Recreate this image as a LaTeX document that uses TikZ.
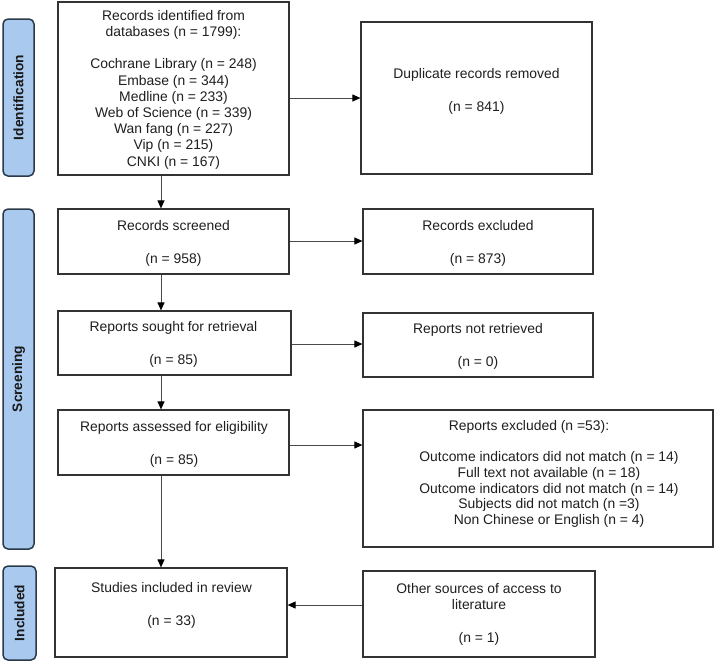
\documentclass[tikz,border=0pt]{standalone}
\usepackage{fontspec}
\setmainfont{Liberation Sans}
\usetikzlibrary{arrows.meta}
\definecolor{sidefill}{HTML}{A9C9EE}
\definecolor{sidedraw}{HTML}{2B3A4A}
\definecolor{boxdraw}{HTML}{333333}
\definecolor{linegray}{HTML}{4A4A4A}
\begin{document}
\begin{tikzpicture}[x=1pt,y=-1pt,
  box/.style={draw=boxdraw,line width=1.2pt,fill=white,minimum width=#1,inner sep=0pt},
  side/.style={draw=sidedraw,line width=1.5pt,fill=sidefill,rounded corners=5pt,inner sep=0pt},
  sidetxt/.style={rotate=90,font=\fontsize{13.7}{16}\selectfont\bfseries,text=black!90},
  txt/.style={align=center,font=\fontsize{13.9}{16.2}\selectfont,text=black!88,inner sep=0pt},
  arr/.style={draw=linegray,line width=1pt,-{Triangle[length=8pt,width=7pt,fill=black,color=black]}}
]
\useasboundingbox (0,0) rectangle (714,662);

% sidebars
\node[side,minimum width=31pt,minimum height=157pt] (sI) at (18.5,97.5) {};
\node[sidetxt] (sIt) at (sI.center) {Identification};
\node[side,minimum width=31pt,minimum height=340pt] (sS) at (18.5,379) {};
\node[sidetxt] (sSt) at (sS.center) {Screening};
\node[side,minimum width=33pt,minimum height=94pt] (sN) at (19.5,613) {};
\node[sidetxt] (sNt) at (sN.center) {Included};

% main boxes
\node[box=231pt,minimum height=173pt] (A) at (173.5,88.5) {};
\node[txt] (At) at (173.5,89.5) {Records identified from\\databases (n = 1799):\\[16.2pt]Cochrane Library (n = 248)\\Embase (n = 344)\\Medline (n = 233)\\Web of Science (n = 339)\\Wan fang (n = 227)\\Vip (n = 215)\\CNKI (n = 167)};

\node[box=231pt,minimum height=152pt] (Dup) at (476.5,98) {};
\node[txt] (Dupt) at (476.5,91) {Duplicate records removed\\[16.8pt](n = 841)};

\node[box=231pt,minimum height=65pt] (B) at (173.5,241.5) {};
\node[txt] (Bt) at (173.5,243) {Records screened\\[16.8pt](n = 958)};

\node[box=230pt,minimum height=65pt] (RE) at (478,241.5) {};
\node[txt] (REt) at (478,243) {Records excluded\\[16.8pt](n = 873)};

\node[box=233pt,minimum height=64pt] (C) at (174.5,343) {};
\node[txt] (Ct) at (173.5,344) {Reports sought for retrieval\\[16.8pt](n = 85)};

\node[box=230pt,minimum height=64pt] (RNR) at (478,345) {};
\node[txt] (RNRt) at (478,346) {Reports not retrieved\\[16.8pt](n = 0)};

\node[box=231pt,minimum height=65pt] (D) at (173.5,442.5) {};
\node[txt] (Dt) at (174,444) {Reports assessed for eligibility\\[16.8pt](n = 85)};

\node[box=350pt,minimum height=137pt] (RX) at (538,478.5) {};
\node[txt] (RXt) at (529,426.5) {Reports excluded (n =53):};
\node[txt,font=\fontsize{13.9}{15.8}\selectfont] (RXl) at (549,489.5) {Outcome indicators did not match (n = 14)\\Full text not available (n = 18)\\Outcome indicators did not match (n = 14)\\Subjects did not match (n =3)\\Non Chinese or English (n = 4)};

\node[box=232pt,minimum height=89pt] (E) at (171,612.5) {};
\node[txt] (Et) at (171.5,605.5) {Studies included in review\\[16.8pt](n = 33)};

\node[box=232pt,minimum height=86pt] (O) at (479,614) {};
\node[txt] (Ot) at (479,614.7) {Other sources of access to\\literature\\[16.8pt](n = 1)};

% connector guides
\coordinate (vx) at (161,0);
\coordinate (y1) at (0,98);
\coordinate (y2) at (0,241);
\coordinate (y3) at (0,344);
\coordinate (y4) at (0,445);
\coordinate (y5) at (0,605);

\draw[arr] (A.south -| vx) -- (B.north -| vx);
\draw[arr] (B.south -| vx) -- (C.north -| vx);
\draw[arr] (C.south -| vx) -- (D.north -| vx);
\draw[arr] (D.south -| vx) -- (E.north -| vx);

\draw[arr] (A.east |- y1) -- (Dup.west |- y1);
\draw[arr] (B.east |- y2) -- (RE.west |- y2);
\draw[arr] (C.east |- y3) -- (RNR.west |- y3);
\draw[arr] (D.east |- y4) -- (RX.west |- y4);
\draw[arr] (O.west |- y5) -- (E.east |- y5);
\end{tikzpicture}
\end{document}
